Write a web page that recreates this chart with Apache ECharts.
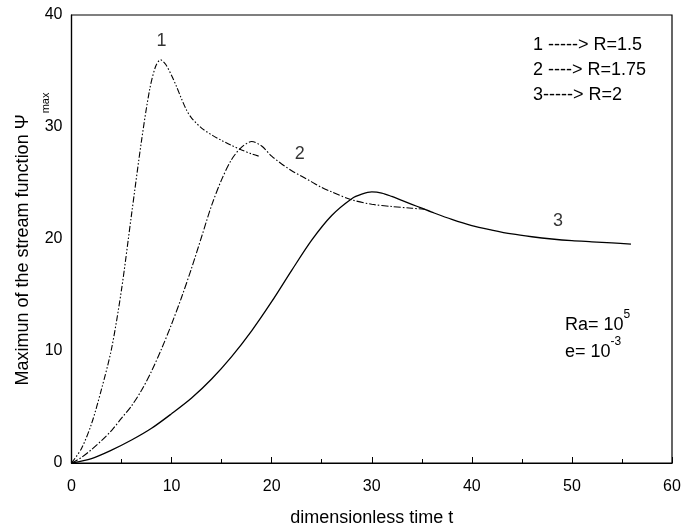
<!DOCTYPE html>
<html>
<head>
<meta charset="utf-8">
<script src="https://cdn.jsdelivr.net/npm/echarts@6/dist/echarts.min.js"></script>
<style>html,body{margin:0;padding:0;background:#fff}#c{width:682px;height:528px}</style>
</head>
<body>
<div id="c"></div>
<script>
// Data
var curve1 = [[0,0],[1,1.3],[2,3.5],[3,6.6],[4,10.2],[5,15.5],[6,22.2],[7,28.8],[7.8,33.3],[8.4,35.4],[8.9,36.0],[9.4,35.6],[10,34.6],[10.5,33.6],[11,32.5],[11.5,31.5],[12,30.8],[13,29.9],[14,29.3],[15,28.8],[16,28.35],[17,27.95],[18,27.6],[18.7,27.4]];
var curve2 = [[0,0],[1,0.5],[2,1.2],[3,2.0],[4,2.9],[5,4.0],[6,5.1],[7,6.5],[8,8.2],[9,10.2],[10,12.4],[11,14.8],[12,17.4],[13,20.2],[14,23.0],[15,25.3],[16,27.1],[17,28.2],[18,28.7],[19,28.3],[20,27.4],[21,26.7],[22,26.1],[23,25.6],[24,25.1],[25,24.6],[26,24.2],[28,23.5],[30,23.1],[32,22.9],[34,22.75],[35.3,22.65]];
var curve3 = [[0,0],[2,0.4],[4,1.15],[6,2.05],[8,3.1],[10,4.4],[12,5.8],[14,7.5],[16,9.5],[18,11.8],[20,14.4],[22,17.2],[24,19.9],[26,22.1],[28,23.6],[29,24.0],[30,24.2],[31,24.1],[32,23.8],[33,23.45],[34,23.1],[35,22.75],[36,22.4],[38,21.75],[40,21.2],[42,20.8],[44,20.45],[46,20.2],[48,20.0],[50,19.85],[52,19.75],[54,19.65],[55.9,19.55]];
var curveLabels = ['1','2','3'];
var curveLabelPos = [[9.0,37.7],[22.8,27.6],[48.6,21.6]];
var legendLines = ['1 -----> R=1.5','2 ----> R=1.75','3-----> R=2'];
var xTicks = [0,10,20,30,40,50,60];
var yTicks = [0,10,20,30,40];

var chart = echarts.init(document.getElementById('c'), null, {renderer:'canvas'});
var font = 'Liberation Sans, Arial, sans-serif';
var option = {
  animation: false,
  backgroundColor: '#fff',
  grid: {left: 71.5, right: 10, top: 15, bottom: 65, show: true, borderColor: '#000', borderWidth: 1.2,
         containLabel: false, outerBoundsMode: 'none'},
  xAxis: {
    type: 'value', min: xTicks[0], max: xTicks[xTicks.length-1], interval: 10,
    name: 'dimensionless time t', nameLocation: 'middle', nameGap: 46, nameMoveOverlap: false,
    nameTextStyle: {fontFamily: font, fontSize: 18, color: '#000'},
    axisLine: {lineStyle: {color: '#000', width: 1.2}},
    axisTick: {inside: true, length: 6, lineStyle: {color: '#000'}},
    minorTick: {show: true, splitNumber: 2, length: 4, lineStyle: {color: '#000'}},
    axisLabel: {fontFamily: font, fontSize: 16, color: '#000', margin: 16},
    splitLine: {show: false}
  },
  yAxis: {
    type: 'value', min: yTicks[0], max: yTicks[yTicks.length-1], interval: 10,
    name: '{n|Maximun of the stream function Ψ}{s|max}', nameLocation: 'middle', nameGap: 35, nameMoveOverlap: false,
    nameTextStyle: {fontFamily: font, fontSize: 18, color: '#000',
      rich: {n: {fontFamily: font, fontSize: 18, color: '#000', verticalAlign: 'top', lineHeight: 22},
             s: {fontFamily: font, fontSize: 11, color: '#000', verticalAlign: 'top', lineHeight: 12, padding: [26,0,0,1]}}},
    axisLine: {show: true, lineStyle: {color: '#000', width: 1.2}},
    axisTick: {show: false},
    axisLabel: {fontFamily: font, fontSize: 16, color: '#000', margin: 9},
    splitLine: {show: false}
  },
  series: [
    {type: 'line', data: curve1, smooth: 0.3, showSymbol: false, lineStyle: {color: '#000', width: 1.1, type: [6,2,1.5,2,1.5,2]}},
    {type: 'line', data: curve2, smooth: 0.3, showSymbol: false, lineStyle: {color: '#000', width: 1.1, type: [7,2,1.5,2]}},
    {type: 'line', data: curve3, smooth: 0.3, showSymbol: false, lineStyle: {color: '#000', width: 1.3}},
    {type: 'scatter', data: curveLabelPos.map(function(p,i){return {value:p, label:{formatter: curveLabels[i]}};}),
      symbolSize: 0, silent: true,
      label: {show: true, position: 'inside', fontFamily: font, fontSize: 18, color: '#000'}}
  ],
  graphic: [
    {type: 'text', left: 533, top: 33, style: {text: legendLines.join('\n'), font: '18px ' + font, fill: '#000', lineHeight: 25}},
    {type: 'text', left: 565, top: 307, style: {
      text: '{a|Ra= 10}{b|5}\n{a|e= 10}{b|-3}',
      rich: {a: {fontFamily: font, fontSize: 18, fill: '#000', lineHeight: 27, verticalAlign: 'bottom'}, b: {fontFamily: font, fontSize: 12, fill: '#000', verticalAlign: 'top', lineHeight: 27, padding: [2,0,0,0]}}
    }}
  ]
};
chart.setOption(option);
</script>
</body>
</html>
